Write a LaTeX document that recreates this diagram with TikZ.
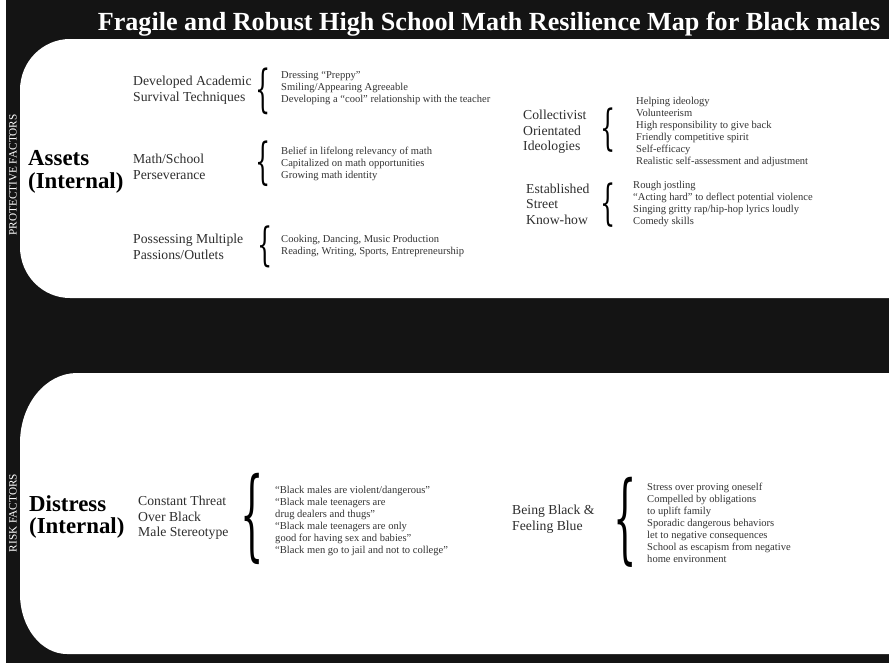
\documentclass[tikz,border=0pt]{standalone}
\usepackage{fontspec}
\setmainfont{Liberation Serif}
\newfontfamily\bracefont{DejaVu Serif}
\usepackage{graphicx}
\usepackage{tikz}

\definecolor{bandblack}{HTML}{141414}
\definecolor{labelgray}{HTML}{2E2E2E}
\definecolor{itemgray}{HTML}{333333}

% a curly brace glyph stretched to width #1 and height #2
\newcommand{\bracemark}[2]{\resizebox*{#1}{#2}{\bracefont\{}}

\begin{document}
\begin{tikzpicture}[x=0.03cm, y=-0.03cm,
  factor/.style={rotate=90, text=white, inner sep=0pt, font=\fontsize{9.6}{11}\selectfont},
  heading/.style={anchor=west, align=left, inner sep=0pt, text=black, font=\bfseries\fontsize{19.5}{19.5}\selectfont},
  group/.style={anchor=west, align=left, inner sep=0pt, text=labelgray, font=\fontsize{11.7}{13.2}\selectfont},
  items/.style={anchor=west, align=left, inner sep=0pt, text=itemgray, font=\fontsize{9}{10.2}\selectfont},
  curly/.style={inner sep=0pt, text=black}]
\useasboundingbox (0,0) rectangle (889,663);

% Background and side band
\fill[white] (0,0) rectangle (889,663);
\fill[bandblack] (6,0) rectangle (889,663);

% Protective panel
\fill[white] (889,39) -- (70,39) arc[start angle=270, end angle=180, x radius=50, y radius=51]
  -- (20,247) arc[start angle=180, end angle=90, x radius=50, y radius=51] -- (889,298) -- cycle;

% Risk panel
\fill[white] (889,373) -- (77,373) arc[start angle=270, end angle=180, x radius=57, y radius=70]
  -- (20,594) arc[start angle=180, end angle=90, x radius=47, y radius=60] -- (889,654) -- cycle;

% Title
\node[text=white, anchor=base, inner sep=0pt, font=\bfseries\fontsize{22.3}{26}\selectfont] (title) at (489,30)
  {Fragile and Robust High School Math Resilience Map for Black males};

% Side labels
\node[factor] (protective) at (13,175) {PROTECTIVE FACTORS};
\node[factor] (risk) at (13,513) {RISK FACTORS};

% Assets
\node[heading] (assets) at (28,172) {Assets\\(Internal)};

\node[group] (survival) at (133,90) {Developed Academic\\Survival Techniques};
\node[curly] (survivalbr) at (263,91) {\bracemark{13pt}{40pt}};
\node[items] (survivallist) at (281,88) {Dressing “Preppy”\\Smiling/Appearing Agreeable\\Developing a “cool” relationship with the teacher};

\node[group] (persever) at (133,167) {Math/School\\Perseverance};
\node[curly] (perseverbr) at (263,164) {\bracemark{13pt}{39pt}};
\node[items] (perseverlist) at (281,164) {Belief in lifelong relevancy of math\\Capitalized on math opportunities\\Growing math identity};

\node[group] (passions) at (133,247) {Possessing Multiple\\Passions/Outlets};
\node[curly] (passionsbr) at (265,247) {\bracemark{13pt}{36pt}};
\node[items] (passionslist) at (281,246) {Cooking, Dancing, Music Production\\Reading, Writing, Sports, Entrepreneurship};

\node[group] (collective) at (523,132) {Collectivist\\Orientated\\Ideologies};
\node[curly] (collectivebr) at (608,130) {\bracemark{13pt}{38pt}};
\node[items] (collectivelist) at (636,132) {Helping ideology\\Volunteerism\\High responsibility to give back\\Friendly competitive spirit\\Self-efficacy\\Realistic self-assessment and adjustment};

\node[group] (street) at (526,204) {Established\\Street\\Know-how};
\node[curly] (streetbr) at (608,205) {\bracemark{13pt}{38pt}};
\node[items] (streetlist) at (633,204) {Rough jostling\\“Acting hard” to deflect potential violence\\Singing gritty rap/hip-hop lyrics loudly\\Comedy skills};

% Distress
\node[heading] (distress) at (29,517) {Distress\\(Internal)};

\node[group] (threat) at (138,518) {Constant Threat\\Over Black\\Male Stereotype};
\node[curly] (threatbr) at (252,519) {\bracemark{20pt}{78pt}};
\node[items] (threatlist) at (275,521) {“Black males are violent/dangerous”\\“Black male teenagers are\\drug dealers and thugs”\\“Black male teenagers are only\\good for having sex and babies”\\“Black men go to jail and not to college”};

\node[group] (blue) at (512,519) {Being Black \&\\Feeling Blue};
\node[curly] (bluebr) at (625,522) {\bracemark{20pt}{77pt}};
\node[items] (bluelist) at (647,523) {Stress over proving oneself\\Compelled by obligations\\to uplift family\\Sporadic dangerous behaviors\\let to negative consequences\\School as escapism from negative\\home environment};
\end{tikzpicture}
\end{document}
